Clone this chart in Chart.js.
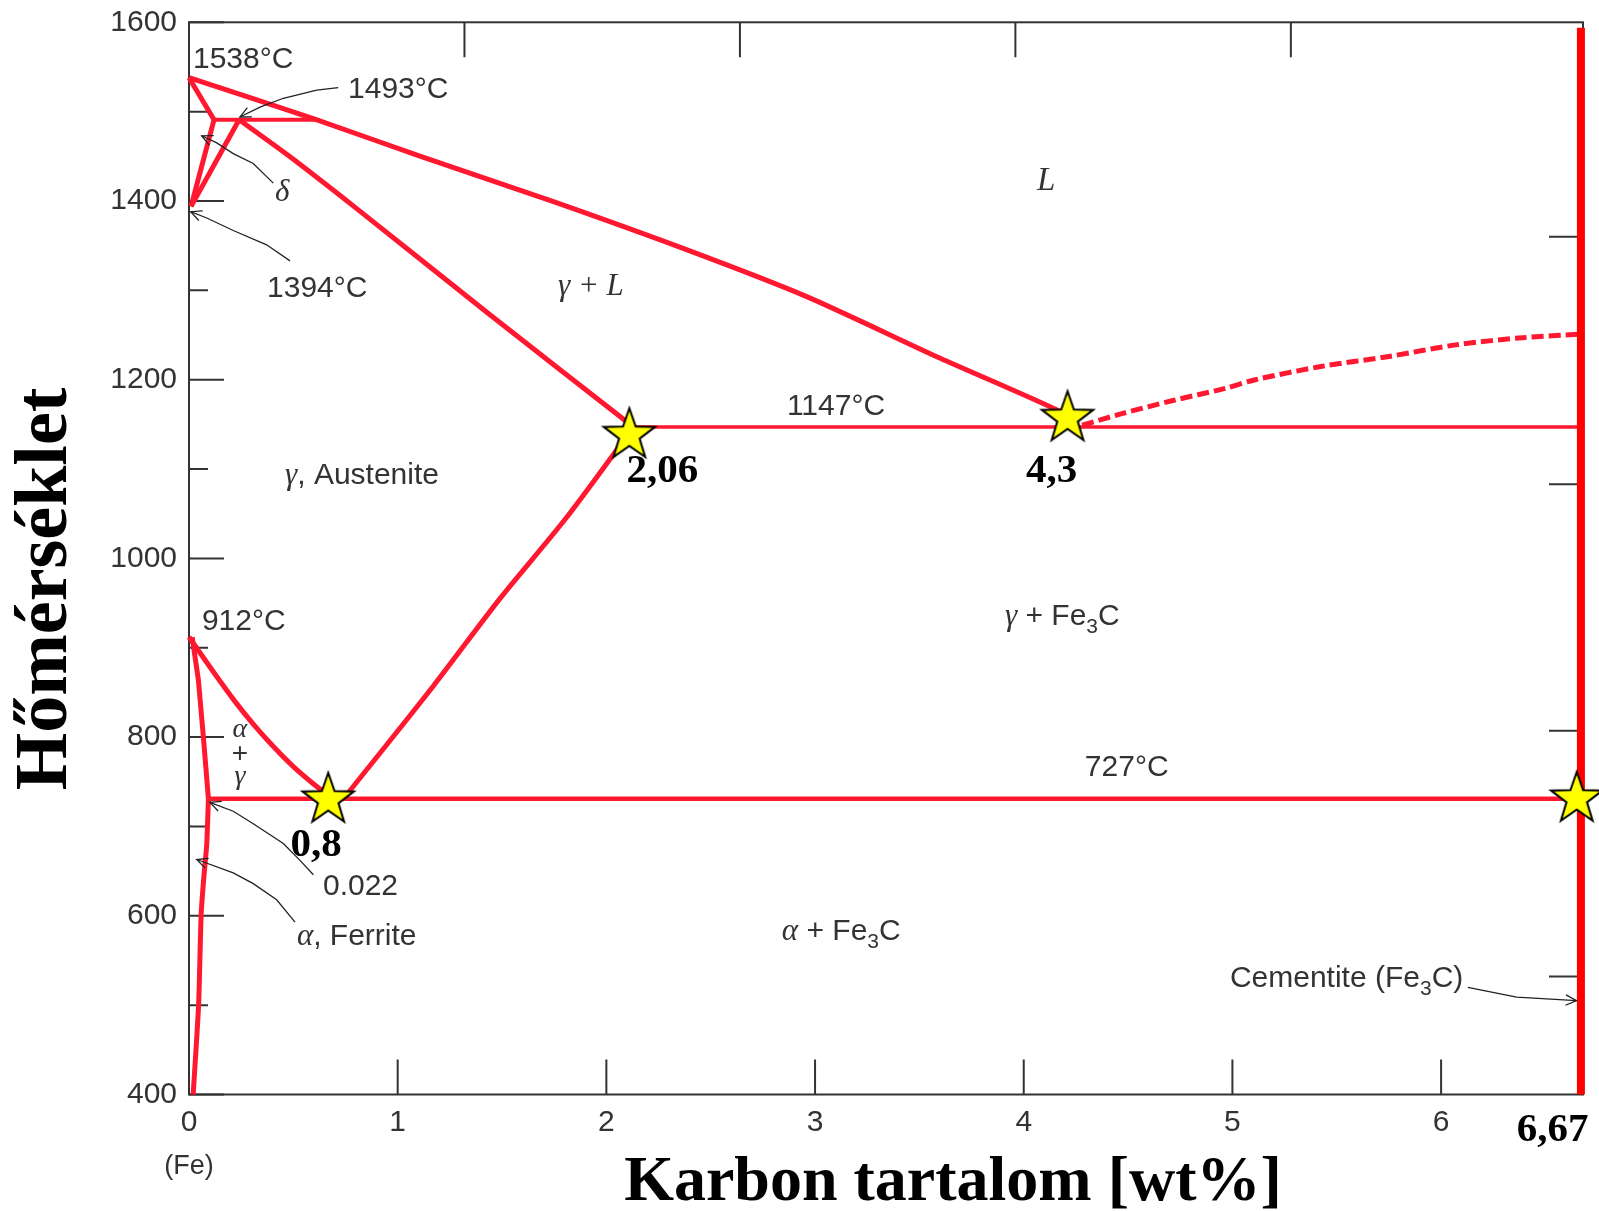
<!DOCTYPE html>
<html>
<head>
<meta charset="utf-8">
<script src="https://cdn.jsdelivr.net/npm/chart.js@4.4.1/dist/chart.umd.min.js"></script>
<style>
  body { margin: 0; background: #fff; }
  #wrap { width: 1599px; height: 1211px; }
</style>
</head>
<body>
<div id="wrap"><canvas id="phaseChart" width="1599" height="1211"></canvas></div>
<script>
// Fe-Fe3C phase diagram, points as [wt% C, temperature °C]
const liquidus = [[0, 1538], [0.3, 1515], [0.61, 1491], [1.11, 1450], [1.75, 1399], [2.39, 1345], [2.96, 1293], [3.6, 1224], [4.16, 1166], [4.25, 1150]];
const deltaSolidus = [[0, 1538], [0.12, 1491]];
const peritectic = [[0.12, 1491], [0.61, 1491]];
const deltaSolvus = [[0.12, 1491], [0.01, 1394]];
const gammaDelta = [[0.01, 1394], [0.24, 1491]];
const solidus = [[0.24, 1491], [0.47, 1452], [0.79, 1394], [1.43, 1275], [2.13, 1147]];
const eutectic = [[2.13, 1147], [6.67, 1147]];
const acm = [[0.74, 731], [1.17, 857], [1.49, 955], [1.81, 1046], [2.13, 1147]];
const a3 = [[0, 912], [0.12, 872], [0.22, 840], [0.31, 814], [0.41, 788], [0.5, 767], [0.6, 747], [0.69, 731]];
const alphaTop = [[0.015, 912], [0.045, 864], [0.069, 800], [0.093, 731]];
const alphaSolvus = [[0.093, 731], [0.085, 680], [0.07, 640], [0.058, 600], [0.046, 500], [0.02, 400]];
const eutectoid = [[0.093, 731], [6.67, 731]];
const cementiteLiquidus = [[4.28, 1149], [4.47, 1162], [4.72, 1177], [4.96, 1190], [5.11, 1200], [5.43, 1215], [5.75, 1226], [6.07, 1239], [6.39, 1247], [6.67, 1251]];
const cementite = [[6.67, 400], [6.67, 1594]];

const starPoints = [[0.667, 731], [2.11, 1139], [4.21, 1158], [6.65, 732]];
const starLabels = ['0,8', '2,06', '4,3', '6,67'];

// thin annotation pointers, arrow at the last point
const pointer1493 = [[0.715, 1527], [0.612, 1524], [0.452, 1515], [0.34, 1505], [0.244, 1494]];
const pointerDelta = [[0.404, 1420], [0.308, 1442], [0.212, 1453], [0.133, 1465], [0.061, 1473]];
const pointer1394 = [[0.484, 1333], [0.372, 1351], [0.212, 1367], [0.085, 1381], [0.008, 1388]];
const pointer0022 = [[0.596, 646], [0.532, 662], [0.452, 681], [0.308, 703], [0.212, 717], [0.1, 727]];
const pointerFerrite = [[0.508, 593], [0.42, 618], [0.308, 636], [0.212, 648], [0.037, 663]];
const pointerCementite = [[6.128, 520], [6.362, 509], [6.649, 505]];

const xTickValues = [0, 1, 2, 3, 4, 5, 6];
const yTickValues = [400, 600, 800, 1000, 1200, 1400, 1600];
const yMinorTicks = [500, 700, 900, 1100, 1300, 1500];
const topTicks = [1.32, 2.64, 3.96, 5.28];
const rightTicks = [1360, 1083, 807, 532];

const RED = 'rgb(255,24,48)';
const SANS = '30px "Liberation Sans"';
const SUB = '21px "Liberation Sans"';
const GREEK = 'italic 31px "Liberation Serif"';

function toXY(points) {
  return points.map(([x, y]) => ({ x, y }));
}

function phaseLine(points, width, extra) {
  return Object.assign({
    data: toXY(points),
    showLine: true,
    borderColor: RED,
    borderWidth: width,
    pointRadius: 0,
    tension: 0,
    order: 2,
    clip: false
  }, extra || {});
}

function makeStar() {
  const c = document.createElement('canvas');
  c.width = 60; c.height = 60;
  const g = c.getContext('2d');
  const R = 27, r = 10.8;
  g.beginPath();
  for (let i = 0; i < 10; i++) {
    const rad = i % 2 === 0 ? R : r;
    const ang = -Math.PI / 2 + i * Math.PI / 5;
    const px = 30 + rad * Math.cos(ang), py = 31 + rad * Math.sin(ang);
    if (i === 0) g.moveTo(px, py); else g.lineTo(px, py);
  }
  g.closePath();
  g.fillStyle = '#ffff00';
  g.fill();
  g.lineWidth = 2;
  g.strokeStyle = '#000';
  g.stroke();
  return c;
}

const frameAndTicks = {
  id: 'frameAndTicks',
  beforeDatasetsDraw(chart) {
    const { ctx, chartArea: a, scales: { x, y } } = chart;
    ctx.save();
    ctx.strokeStyle = '#333';
    ctx.lineWidth = 2;
    ctx.strokeRect(a.left, a.top, a.right - a.left, a.bottom - a.top);
    ctx.beginPath();
    yTickValues.forEach(v => {
      const py = y.getPixelForValue(v);
      ctx.moveTo(a.left, py); ctx.lineTo(a.left + 35, py);
    });
    yMinorTicks.forEach(v => {
      const py = y.getPixelForValue(v);
      ctx.moveTo(a.left, py); ctx.lineTo(a.left + 19, py);
    });
    rightTicks.forEach(v => {
      const py = y.getPixelForValue(v);
      ctx.moveTo(a.right, py); ctx.lineTo(a.right - 34, py);
    });
    xTickValues.slice(1).forEach(v => {
      const px = x.getPixelForValue(v);
      ctx.moveTo(px, a.bottom); ctx.lineTo(px, a.bottom - 35);
    });
    topTicks.forEach(v => {
      const px = x.getPixelForValue(v);
      ctx.moveTo(px, a.top); ctx.lineTo(px, a.top + 35);
    });
    ctx.stroke();
    ctx.restore();
  }
};

function drawParts(ctx, parts, x, y) {
  let cx = x;
  parts.forEach(p => {
    ctx.font = p.font || SANS;
    ctx.fillText(p.text, cx, y + (p.dy || 0));
    cx += ctx.measureText(p.text).width;
  });
}

const annotations = {
  id: 'annotations',
  afterDatasetsDraw(chart) {
    const { ctx, chartArea: a, scales: { x, y } } = chart;
    const px = v => x.getPixelForValue(v);
    const py = v => y.getPixelForValue(v);
    ctx.save();

    // pointer lines
    ctx.strokeStyle = '#222';
    ctx.lineWidth = 1.3;
    [pointer1493, pointerDelta, pointer1394, pointer0022, pointerFerrite, pointerCementite].forEach(pts => {
      ctx.beginPath();
      pts.forEach(([vx, vy], i) => {
        if (i === 0) ctx.moveTo(px(vx), py(vy)); else ctx.lineTo(px(vx), py(vy));
      });
      ctx.stroke();
      const [x0, y0] = pts[pts.length - 2];
      const [x1, y1] = pts[pts.length - 1];
      const ang = Math.atan2(py(y1) - py(y0), px(x1) - px(x0));
      const ex = px(x1), ey = py(y1);
      ctx.beginPath();
      ctx.moveTo(ex - 12 * Math.cos(ang - 0.45), ey - 12 * Math.sin(ang - 0.45));
      ctx.lineTo(ex, ey);
      ctx.lineTo(ex - 12 * Math.cos(ang + 0.45), ey - 12 * Math.sin(ang + 0.45));
      ctx.stroke();
    });

    // region and temperature labels
    ctx.fillStyle = '#333';
    ctx.textBaseline = 'alphabetic';
    ctx.textAlign = 'left';
    const labels = [
      { at: [0.019, 1549], parts: [{ text: '1538°C' }] },
      { at: [0.762, 1515], parts: [{ text: '1493°C' }] },
      { at: [0.412, 1400], parts: [{ text: 'δ', font: GREEK }] },
      { at: [0.374, 1293], parts: [{ text: '1394°C' }] },
      { at: [1.768, 1295], parts: [{ text: 'γ + L', font: GREEK }] },
      { at: [4.063, 1412], parts: [{ text: 'L', font: 'italic 33px "Liberation Serif"' }] },
      { at: [0.46, 1083], parts: [{ text: 'γ', font: GREEK }, { text: ', Austenite' }] },
      { at: [0.062, 920], parts: [{ text: '912°C' }] },
      { at: [2.865, 1160], parts: [{ text: '1147°C' }] },
      { at: [3.91, 926], parts: [{ text: 'γ', font: GREEK }, { text: ' + Fe' }, { text: '3', font: SUB, dy: 8 }, { text: 'C' }] },
      { at: [4.293, 756], parts: [{ text: '727°C' }] },
      { at: [0.642, 623], parts: [{ text: '0.022' }] },
      { at: [0.517, 567], parts: [{ text: 'α', font: GREEK }, { text: ', Ferrite' }] },
      { at: [2.841, 573], parts: [{ text: 'α', font: GREEK }, { text: ' + Fe' }, { text: '3', font: SUB, dy: 8 }, { text: 'C' }] },
      { at: [4.988, 520], parts: [{ text: 'Cementite (Fe' }, { text: '3', font: SUB, dy: 8 }, { text: 'C)' }] }
    ];
    labels.forEach(l => drawParts(ctx, l.parts, px(l.at[0]), py(l.at[1])));

    // stacked alpha + gamma
    ctx.textAlign = 'center';
    ctx.font = 'italic 28px "Liberation Serif"';
    ctx.fillText('α', px(0.244), py(800));
    ctx.font = '28px "Liberation Sans"';
    ctx.fillText('+', px(0.244), py(772));
    ctx.font = 'italic 28px "Liberation Serif"';
    ctx.fillText('γ', px(0.244), py(748));

    ctx.font = '27px "Liberation Sans"';
    ctx.fillText('(Fe)', px(0), a.bottom + 79);

    // star labels
    ctx.fillStyle = '#000';
    ctx.font = 'bold 41px "Liberation Serif"';
    const offsets = [[-12, 57], [33, 48], [-16, 65], [-24, 343]];
    starPoints.forEach(([vx, vy], i) => {
      ctx.fillText(starLabels[i], px(vx) + offsets[i][0], py(vy) + offsets[i][1]);
    });

    // axis titles
    ctx.font = 'bold 64px "Liberation Serif"';
    ctx.fillText('Karbon tartalom [wt%]', 953, 1200);
    ctx.translate(66, 589);
    ctx.rotate(-Math.PI / 2);
    ctx.font = 'bold 74px "Liberation Serif"';
    ctx.fillText('Hőmérséklet', 0, 0);
    ctx.restore();
  }
};

const ctx = document.getElementById('phaseChart').getContext('2d');
new Chart(ctx, {
  type: 'scatter',
  data: {
    datasets: [
      {
        data: toXY(starPoints),
        pointStyle: makeStar(),
        pointRadius: 27,
        showLine: false,
        order: 0,
        clip: false
      },
      phaseLine(cementite, 8, { borderColor: '#ff0000', order: 1 }),
      phaseLine(liquidus, 5, { tension: 0.25 }),
      phaseLine(deltaSolidus, 5),
      phaseLine(peritectic, 4),
      phaseLine(deltaSolvus, 5),
      phaseLine(gammaDelta, 5),
      phaseLine(solidus, 5, { tension: 0.2 }),
      phaseLine(eutectic, 3.5),
      phaseLine(acm, 5, { tension: 0.3 }),
      phaseLine(a3, 5, { tension: 0.3 }),
      phaseLine(alphaTop, 5),
      phaseLine(alphaSolvus, 5, { tension: 0.2 }),
      phaseLine(eutectoid, 4.5),
      phaseLine(cementiteLiquidus, 5, { borderDash: [12, 5], tension: 0.3 })
    ]
  },
  options: {
    responsive: false,
    animation: false,
    layout: { autoPadding: false, padding: { top: 22.3, right: 16, left: 0, bottom: 0 } },
    plugins: { legend: { display: false }, tooltip: { enabled: false } },
    scales: {
      x: {
        type: 'linear',
        min: 0,
        max: 6.68,
        grid: { display: false, drawTicks: false },
        border: { display: false },
        afterBuildTicks: s => { s.ticks = xTickValues.map(v => ({ value: v })); },
        afterFit: s => { s.height = 116.5; s.paddingLeft = 0; s.paddingRight = 0; },
        ticks: {
          padding: 10,
          color: '#333',
          font: { family: 'Liberation Sans', size: 30 },
          maxRotation: 0,
          callback: v => String(v)
        }
      },
      y: {
        type: 'linear',
        min: 400,
        max: 1600,
        grid: { display: false, drawTicks: false },
        border: { display: false },
        afterBuildTicks: s => { s.ticks = yTickValues.map(v => ({ value: v })); },
        afterFit: s => { s.width = 189; s.paddingTop = 0; s.paddingBottom = 0; },
        ticks: {
          padding: 12,
          color: '#333',
          font: { family: 'Liberation Sans', size: 30 },
          callback: v => String(v)
        }
      }
    }
  },
  plugins: [frameAndTicks, annotations]
});
</script>
</body>
</html>
